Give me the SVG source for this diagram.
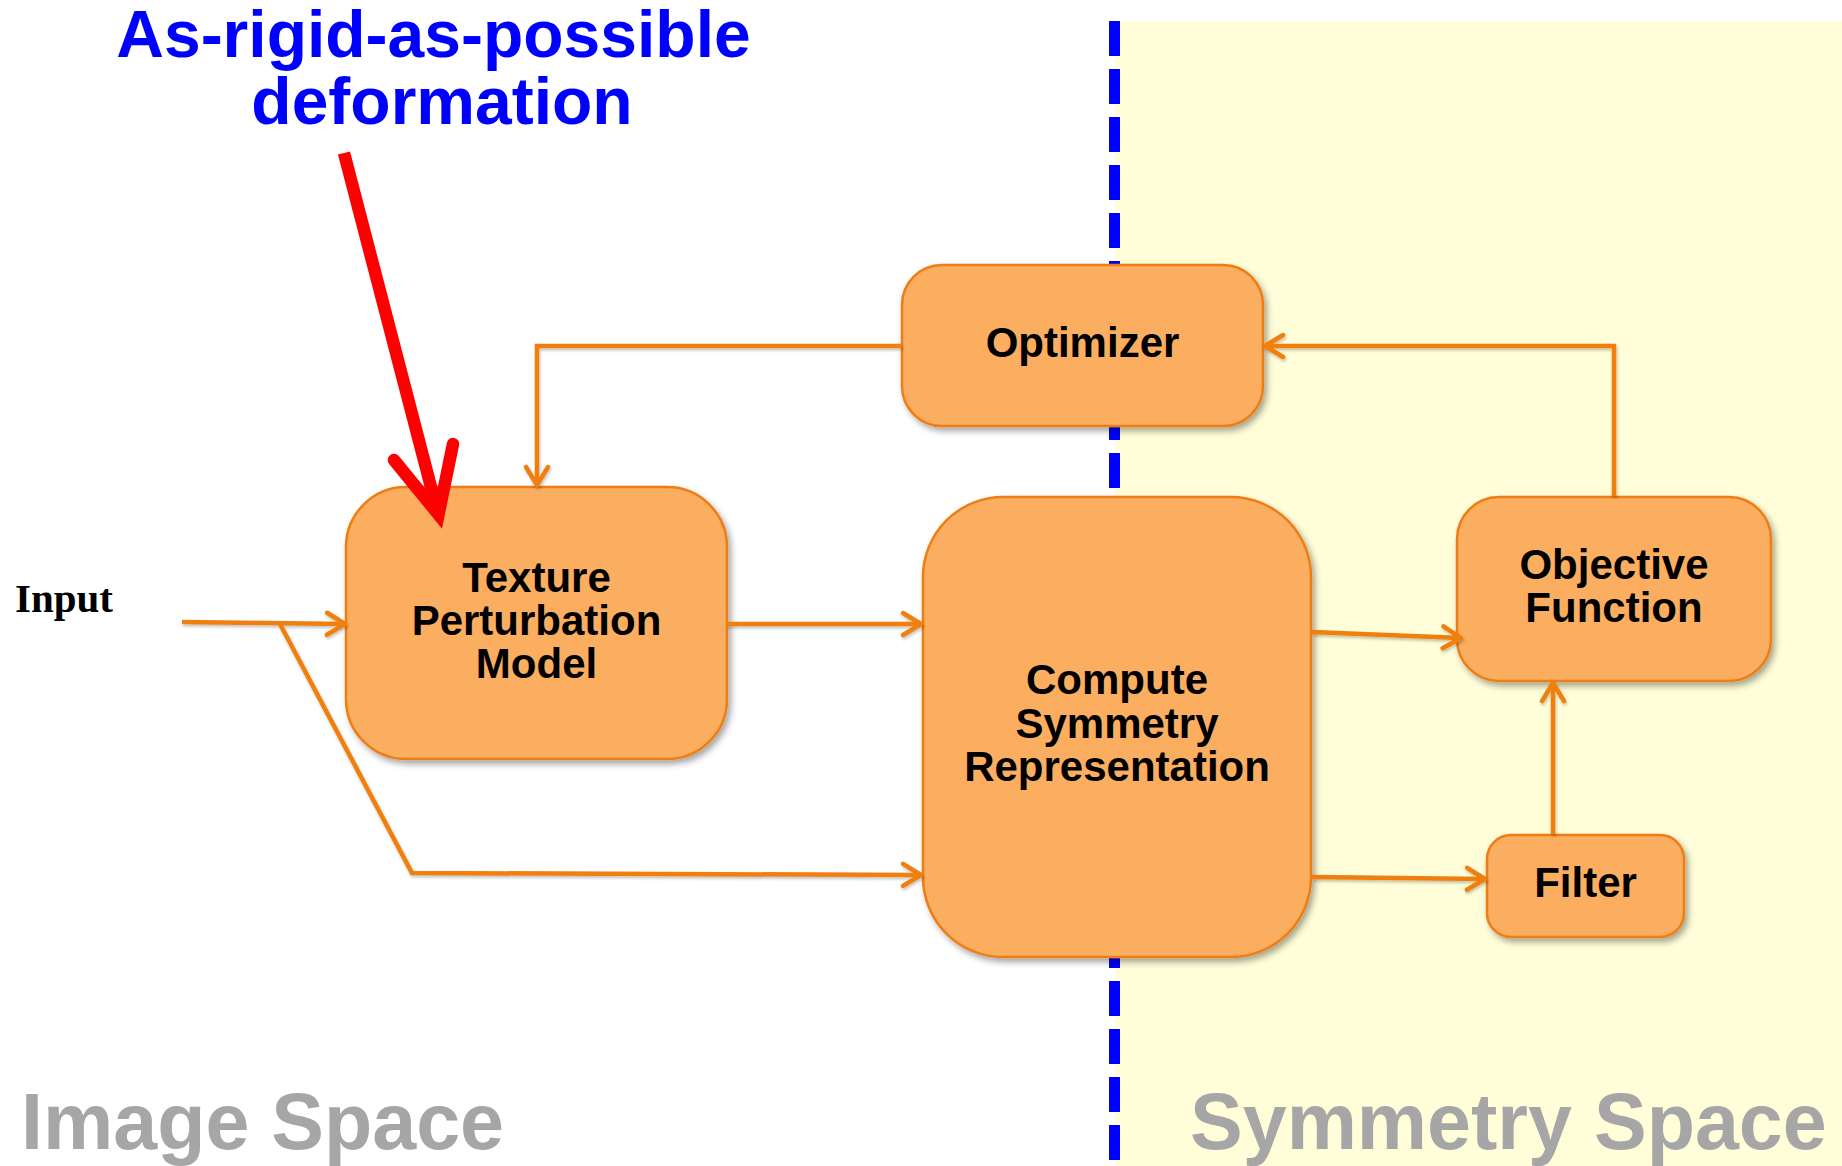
<svg xmlns="http://www.w3.org/2000/svg" width="1842" height="1166" viewBox="0 0 1842 1166">
<defs>
<style>
.box{fill:#FCAE61;stroke:#EF7D12;stroke-width:2.5;filter:url(#sh);}
.lbl{font-family:"Liberation Sans",Arial,sans-serif;font-weight:bold;font-size:42px;fill:#000;text-anchor:middle;}
.conn{fill:none;stroke:#F07F0A;stroke-width:4.5;stroke-linejoin:miter;}
.space{font-family:"Liberation Sans",Arial,sans-serif;font-weight:bold;font-size:79px;fill:#A6A6A6;}
.title{font-family:"Liberation Sans",Arial,sans-serif;font-weight:bold;font-size:66px;fill:#0000FF;text-anchor:middle;}
</style>
<filter id="sh" x="-10%" y="-10%" width="130%" height="130%">
<feDropShadow dx="3" dy="4" stdDeviation="3" flood-color="#000" flood-opacity="0.35"/>
</filter>
<filter id="sh2" filterUnits="userSpaceOnUse" x="0" y="0" width="1842" height="1166">
<feDropShadow dx="1" dy="2" stdDeviation="1.5" flood-color="#000" flood-opacity="0.25"/>
</filter>
<marker id="arr" markerUnits="userSpaceOnUse" markerWidth="30" markerHeight="30" viewBox="0 0 30 30" refX="24" refY="15" orient="auto">
<path d="M6 4 L24 15 L6 26" fill="none" stroke="#F07F0A" stroke-width="4.5" stroke-linecap="round" stroke-linejoin="round"/>
</marker>
</defs>
<rect id="bg" x="0" y="0" width="1842" height="1166" fill="#FFFFFF"/>
<rect id="symmetry-bg" x="1115" y="21" width="727" height="1145" fill="#FFFED9"/>
<line id="divider" x1="1114.5" y1="21" x2="1114.5" y2="1166" stroke="#0000FF" stroke-width="11" stroke-dasharray="35 13"/>

<g id="optimizer">
<rect class="box" x="902" y="265" width="361" height="161" rx="40" ry="40"/>
<text class="lbl" x="1082.5" y="357">Optimizer</text>
</g>
<g id="texture">
<rect class="box" x="346" y="487" width="381" height="272" rx="60" ry="60"/>
<text class="lbl" x="536.5" y="592">Texture</text>
<text class="lbl" x="536.5" y="635">Perturbation</text>
<text class="lbl" x="536.5" y="678">Model</text>
</g>
<g id="compute">
<rect class="box" x="923" y="497" width="388" height="460" rx="80" ry="80"/>
<text class="lbl" x="1117" y="694">Compute</text>
<text class="lbl" x="1117" y="738">Symmetry</text>
<text class="lbl" x="1117" y="781">Representation</text>
</g>
<g id="objective">
<rect class="box" x="1457" y="497" width="314" height="184" rx="42" ry="42"/>
<text class="lbl" x="1614" y="579">Objective</text>
<text class="lbl" x="1614" y="622">Function</text>
</g>
<g id="filter">
<rect class="box" x="1487" y="835" width="197" height="102" rx="24" ry="24"/>
<text class="lbl" x="1585.5" y="897">Filter</text>
</g>

<g id="connectors" filter="url(#sh2)">
<path class="conn" d="M182 622 L345 624" marker-end="url(#arr)"/>
<path class="conn" d="M280 624 L412 873 L921 875" marker-end="url(#arr)"/>
<path class="conn" d="M727 624 L921 624" marker-end="url(#arr)"/>
<path class="conn" d="M902 346 L537 346 L537 485" marker-end="url(#arr)"/>
<path class="conn" d="M1614 496 L1614 346 L1265 346" marker-end="url(#arr)"/>
<path class="conn" d="M1312 632 L1461 638" marker-end="url(#arr)"/>
<path class="conn" d="M1312 877 L1485 879" marker-end="url(#arr)"/>
<path class="conn" d="M1553 834 L1553 683" marker-end="url(#arr)"/>
</g>

<g id="input">
<text x="15" y="612" font-family="'Liberation Serif','Times New Roman',serif" font-weight="bold" font-size="41" fill="#000">Input</text>
</g>

<g id="annotation">
<text class="title" x="433.5" y="57">As-rigid-as-possible</text>
<text class="title" x="442" y="124">deformation</text>
<line x1="344" y1="153" x2="437" y2="510" stroke="#FF0000" stroke-width="12.5"/>
<polyline points="394,460 438.5,514.5 453,444" fill="none" stroke="#FF0000" stroke-width="12.5" stroke-linecap="round" stroke-linejoin="miter" stroke-miterlimit="6"/>
</g>

<text class="space" x="21" y="1149">Image Space</text>
<text class="space" x="1190" y="1149">Symmetry Space</text>
</svg>
